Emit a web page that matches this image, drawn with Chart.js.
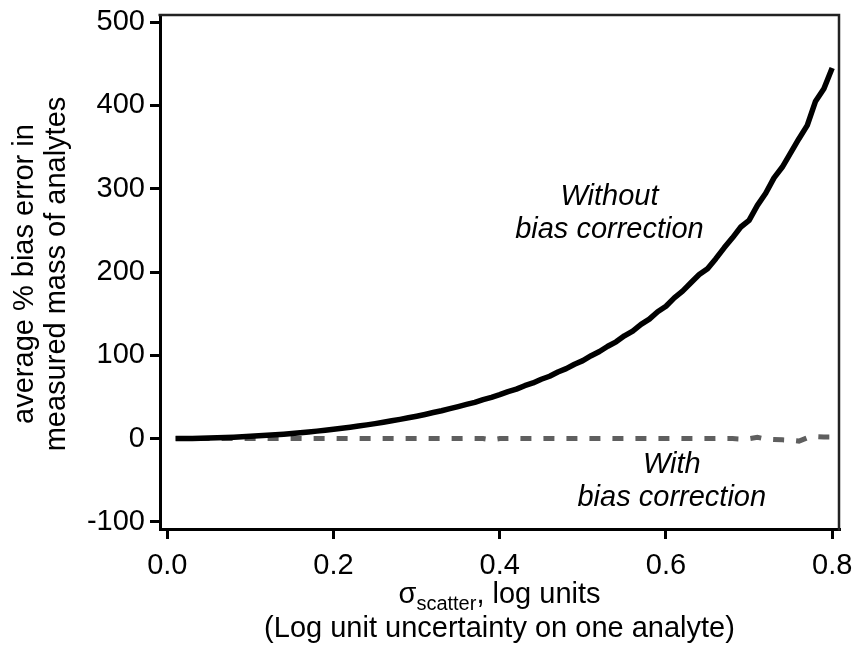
<!DOCTYPE html>
<html><head><meta charset="utf-8">
<script src="https://cdn.jsdelivr.net/npm/chart.js@4.4.1/dist/chart.umd.min.js"></script>
<style>html,body{margin:0;padding:0;background:#fff;}canvas{display:block;}</style>
</head><body>
<canvas id="c" width="855" height="645"></canvas>
<script>
const sigma = [0.01,0.02,0.03,0.04,0.05,0.06,0.07,0.08,0.09,0.10,
  0.11,0.12,0.13,0.14,0.15,0.16,0.17,0.18,0.19,0.20,
  0.21,0.22,0.23,0.24,0.25,0.26,0.27,0.28,0.29,0.30,
  0.31,0.32,0.33,0.34,0.35,0.36,0.37,0.38,0.39,0.40,
  0.41,0.42,0.43,0.44,0.45,0.46,0.47,0.48,0.49,0.50,
  0.51,0.52,0.53,0.54,0.55,0.56,0.57,0.58,0.59,0.60,
  0.61,0.62,0.63,0.64,0.65,0.66,0.67,0.68,0.69,0.70,
  0.71,0.72,0.73,0.74,0.75,0.76,0.77,0.78,0.79,0.80];
const withoutCorrection = [0.0,0.1,0.2,0.4,0.7,1.0,1.3,1.7,2.2,2.7,
  3.3,3.9,4.6,5.3,6.1,7.0,8.0,9.0,10.0,11.2,
  12.4,13.7,15.1,16.5,18.0,19.6,21.4,23.1,25.0,26.9,
  29.0,31.3,33.4,35.9,38.5,41.0,43.6,46.8,49.6,52.7,
  56.3,59.4,63.5,66.8,71.3,74.9,79.9,84.0,89.3,93.6,
  99.5,104.6,110.9,116.2,123.4,129.1,137.2,143.4,152.3,158.9,
  168.9,177.0,187.1,197.0,204.0,216.0,229.0,241.0,254.0,262.0,
  280.0,294.5,313.0,326.0,343.0,360.0,376.0,405.0,420.0,445.0];
const withCorrection = [0.0,0.0,0.0,0.0,0.1,0.0,0.0,0.1,0.0,0.0,
  0.0,0.1,0.0,0.0,0.0,0.1,0.0,0.0,0.0,0.1,
  0.0,0.0,0.1,0.0,0.0,0.0,0.1,0.0,0.0,0.0,
  0.1,0.0,0.0,0.0,0.0,0.1,0.0,0.0,-1.5,0.0,
  0.0,0.1,0.0,0.0,0.0,0.1,0.0,0.0,0.0,0.1,
  0.0,0.0,0.1,0.0,0.0,0.0,0.1,0.0,0.0,0.0,
  0.1,0.0,0.0,0.0,0.0,0.1,0.0,0.0,-0.5,0.0,
  1.5,-0.5,-1.0,-1.5,-2.0,-3.0,1.0,2.5,2.0,2.0];
const xTicks = [0, 0.2, 0.4, 0.6, 0.8];
const xTickLabels = ['0.0','0.2','0.4','0.6','0.8'];
const yTicks = [-100, 0, 100, 200, 300, 400, 500];
const yTickLabels = ['-100','0','100','200','300','400','500'];
const yTitleLines = ['average % bias error in', 'measured mass of analytes'];
const xTitleSymbol = 'σ', xTitleSub = 'scatter', xTitleRest = ', log units';
const xTitleLine2 = '(Log unit uncertainty on one analyte)';
const notes = [
  {lines:['Without','bias correction'], x:0.532, y:[280, 241]},
  {lines:['With','bias correction'], x:0.607, y:[-41, -81]}
];

const FONT = "'Liberation Sans', Arial, sans-serif";
Chart.defaults.font.family = FONT;
Chart.defaults.color = '#000';

const extras = {
  id: 'extras',
  afterDraw(chart) {
    const {ctx, chartArea: a, scales: {x, y}} = chart;
    ctx.save();
    ctx.strokeStyle = '#222'; ctx.lineWidth = 2.5;
    ctx.beginPath();
    ctx.moveTo(a.left - 1.5, a.top); ctx.lineTo(a.right, a.top); ctx.lineTo(a.right, a.bottom + 1.5);
    ctx.stroke();
    ctx.fillStyle = '#000';
    ctx.font = 'italic 29px ' + FONT;
    ctx.textAlign = 'center'; ctx.textBaseline = 'alphabetic';
    notes.forEach(n => {
      n.lines.forEach((t, i) => ctx.fillText(t, x.getPixelForValue(n.x), y.getPixelForValue(n.y[i])));
    });
    const cx = (a.left + a.right) / 2;
    ctx.font = '29px ' + FONT;
    const w1 = ctx.measureText(xTitleSymbol).width;
    const w3 = ctx.measureText(xTitleRest).width;
    ctx.font = '20px ' + FONT;
    const w2 = ctx.measureText(xTitleSub).width;
    let sx = cx - (w1 + w2 + w3) / 2;
    const base1 = 603;
    ctx.textAlign = 'left';
    ctx.font = '29px ' + FONT;
    ctx.fillText(xTitleSymbol, sx, base1);
    ctx.font = '20px ' + FONT;
    ctx.fillText(xTitleSub, sx + w1, base1 + 7);
    ctx.font = '29px ' + FONT;
    ctx.fillText(xTitleRest, sx + w1 + w2, base1);
    ctx.textAlign = 'center';
    ctx.fillText(xTitleLine2, cx, 637);
    const cy = 274;
    [33, 65].forEach((bx, i) => {
      ctx.save();
      ctx.translate(bx, cy);
      ctx.rotate(-Math.PI / 2);
      ctx.textAlign = 'center';
      ctx.fillText(yTitleLines[i], 0, 0);
      ctx.restore();
    });
    ctx.restore();
  }
};

new Chart(document.getElementById('c'), {
  type: 'line',
  data: {
    datasets: [
      {label: 'Without bias correction', data: sigma.map((s, i) => ({x: s, y: withoutCorrection[i]})),
       borderColor: '#000', borderWidth: 5.5, pointRadius: 0, tension: 0, order: 0,
       borderCapStyle: 'butt', borderJoinStyle: 'round'},
      {label: 'With bias correction', data: sigma.map((s, i) => ({x: s, y: withCorrection[i]})),
       borderColor: '#5f5f5f', borderWidth: 5, borderDash: [11, 12], pointRadius: 0, tension: 0, order: 1,
       borderCapStyle: 'butt'}
    ]
  },
  options: {
    responsive: false, animation: false, devicePixelRatio: 1,
    layout: {padding: {left: 0, top: 15, right: 16, bottom: 0}},
    plugins: {legend: {display: false}, tooltip: {enabled: false}},
    scales: {
      x: {
        type: 'linear', min: -0.0088, max: 0.8082,
        afterBuildTicks: s => { s.ticks = xTicks.map(v => ({value: v})); },
        afterFit: s => { s.height = 116; s.paddingLeft = 0; s.paddingRight = 0; },
        ticks: {font: {size: 29}, color: '#000', padding: 10, maxRotation: 0, autoSkip: false,
          callback: (v) => xTickLabels[xTicks.indexOf(v)] ?? ''},
        grid: {drawOnChartArea: false, drawTicks: true, tickLength: 10, lineWidth: 3, color: '#000'},
        border: {display: true, width: 3, color: '#000'}
      },
      y: {
        type: 'linear', min: -108.5, max: 508.5,
        afterBuildTicks: s => { s.ticks = yTicks.map(v => ({value: v})); },
        afterFit: s => { s.width = 160; s.paddingTop = 0; s.paddingBottom = 0; },
        ticks: {font: {size: 29}, color: '#000', padding: 5, autoSkip: false,
          callback: (v) => yTickLabels[yTicks.indexOf(v)] ?? ''},
        grid: {drawOnChartArea: false, drawTicks: true, tickLength: 10, lineWidth: 3, color: '#000'},
        border: {display: true, width: 3, color: '#000'}
      }
    }
  },
  plugins: [extras]
});
</script>
</body></html>
